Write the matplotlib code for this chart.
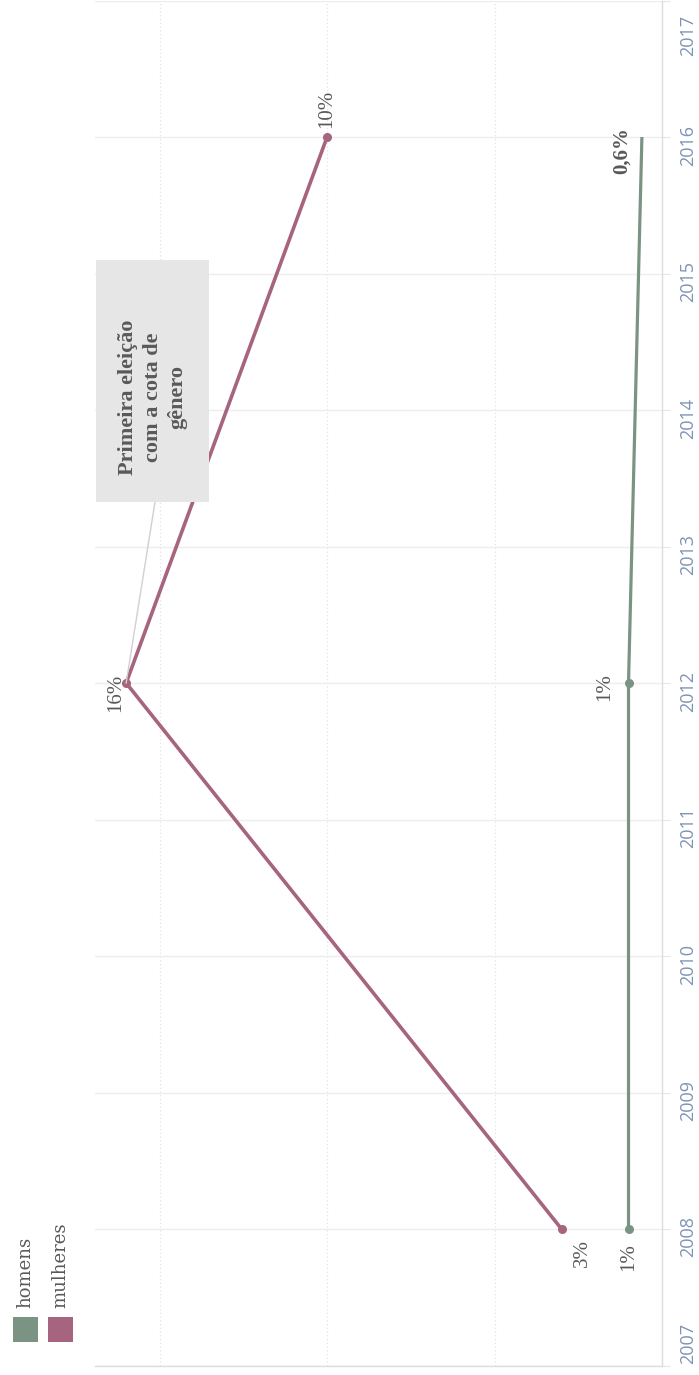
import numpy as np
import matplotlib
matplotlib.use("Agg")
import matplotlib.pyplot as plt
from matplotlib.patches import Rectangle
from matplotlib.transforms import blended_transform_factory, offset_copy

# ─────────────────────────────────────────────
# Data
# ─────────────────────────────────────────────
years = [2008, 2012, 2016]
mulheres = [3.0, 16.0, 10.0]          # %
homens = [1.0, 1.0, 0.6]              # %
mulheres_labels = ["3%", "16%", "10%"]
homens_labels = ["1%", "1%", "0,6%"]
year_ticks = list(range(2007, 2018))
grid_values = [5, 10, 15]
series_names = ["homens", "mulheres"]
note_text = "Primeira eleição\ncom a cota de\ngênero"

C_MUL = "#a6647f"
C_HOM = "#7b9383"
C_TXT = "#595959"
C_YEAR = "#7f93b5"

W, H = 699, 1375


def fx(x):
    return x / W


def fy(y):
    return 1 - y / H


fig = plt.figure(figsize=(W / 100, H / 100), dpi=100)
fig.patch.set_facecolor("white")

# plot area (chart is drawn turned 90°: years run upwards, values grow leftwards)
ax = fig.add_axes([fx(95), fy(1365.5), fx(662 - 95), (1365.5 - 0.5) / H])
ax.set_xlim(16.93, 0)
ax.set_ylim(2007, 2017)

for sp in ["top", "left"]:
    ax.spines[sp].set_visible(False)
for sp in ["right", "bottom"]:
    ax.spines[sp].set_color("#dcdcdc")
    ax.spines[sp].set_linewidth(1.0)

ax.set_yticks(year_ticks)
ax.set_xticks(grid_values)
ax.yaxis.tick_right()
ax.tick_params(axis="y", length=6, color="#e6e6e6", labelright=False, labelleft=False)
ax.tick_params(axis="x", length=0, labelbottom=False)
ax.grid(axis="y", color="#ededed", linewidth=1.0)
ax.grid(axis="x", color="#e3e3e3", linewidth=0.9, linestyle=(0, (1, 2)))
ax.set_axisbelow(True)

# year labels
tr = blended_transform_factory(ax.transAxes, ax.transData)
for yr in year_ticks:
    if yr == year_ticks[0]:
        va, dy = "bottom", 2
    elif yr == year_ticks[-1]:
        va, dy = "top", -14
    else:
        va, dy = "center", -8
    t = offset_copy(tr, fig=fig, x=0, y=dy, units="dots")
    ax.text(1.046, yr, str(yr), transform=t, rotation=90, ha="center", va=va,
            fontsize=13, family="Open Sans", color=C_YEAR)

# lines
ax.plot(mulheres, years, color=C_MUL, linewidth=2.6, marker="o", markersize=5.5,
        solid_capstyle="round", zorder=4)
ax.plot(homens, years, color=C_HOM, linewidth=2.3, marker="o", markersize=5.5,
        markevery=[0, 1], solid_capstyle="butt", zorder=4)

# data labels (offsets in pixels)
mul_off = [(21, -24), (-10, -10), (0, 28)]
hom_off = [(0, -28), (-24, -4), (-20, -14)]
for yr, v, lab, off in zip(years, mulheres, mulheres_labels, mul_off):
    ax.annotate(lab, xy=(v, yr), xytext=off, textcoords="offset pixels",
                rotation=90, ha="center", va="center", fontsize=15,
                family="Liberation Serif", color=C_TXT, zorder=5)
for i, (yr, v, lab, off) in enumerate(zip(years, homens, homens_labels, hom_off)):
    ax.annotate(lab, xy=(v, yr), xytext=off, textcoords="offset pixels",
                rotation=90, ha="center", va="center", fontsize=15,
                family="Liberation Serif", color=C_TXT,
                fontweight="bold" if i == len(years) - 1 else "normal", zorder=5)

# annotation box + connector to the 2012 point
fig.add_artist(Rectangle((fx(96), fy(502)), fx(209 - 96), (502 - 260) / H,
                         transform=fig.transFigure, facecolor="#e6e6e6",
                         edgecolor="none", zorder=6))
fig.text(fx(153), fy(397), note_text, rotation=90, ha="center", va="center",
         multialignment="center", linespacing=1.3, fontsize=16,
         family="Liberation Serif", fontweight="bold", color=C_TXT, zorder=7)
p12 = ax.transData.transform((mulheres[1], years[1]))
pfig = fig.transFigure.inverted().transform(p12)
fig.add_artist(plt.Line2D([fx(155), pfig[0]], [fy(502), pfig[1]],
                          transform=fig.transFigure, color="#d0d0d0",
                          linewidth=1.0, zorder=3))

# legend
for name, col, x0 in zip(series_names, [C_HOM, C_MUL], [13, 48]):
    fig.add_artist(Rectangle((fx(x0), fy(1342)), fx(25), 25 / H,
                             transform=fig.transFigure, facecolor=col,
                             edgecolor="none"))
    fig.text(fx(x0 + 12.5), fy(1308), name, rotation=90, ha="center", va="bottom",
             fontsize=13, family="DejaVu Serif", color=C_TXT)

plt.savefig("out.png", dpi=100, facecolor="white")
plt.close()
